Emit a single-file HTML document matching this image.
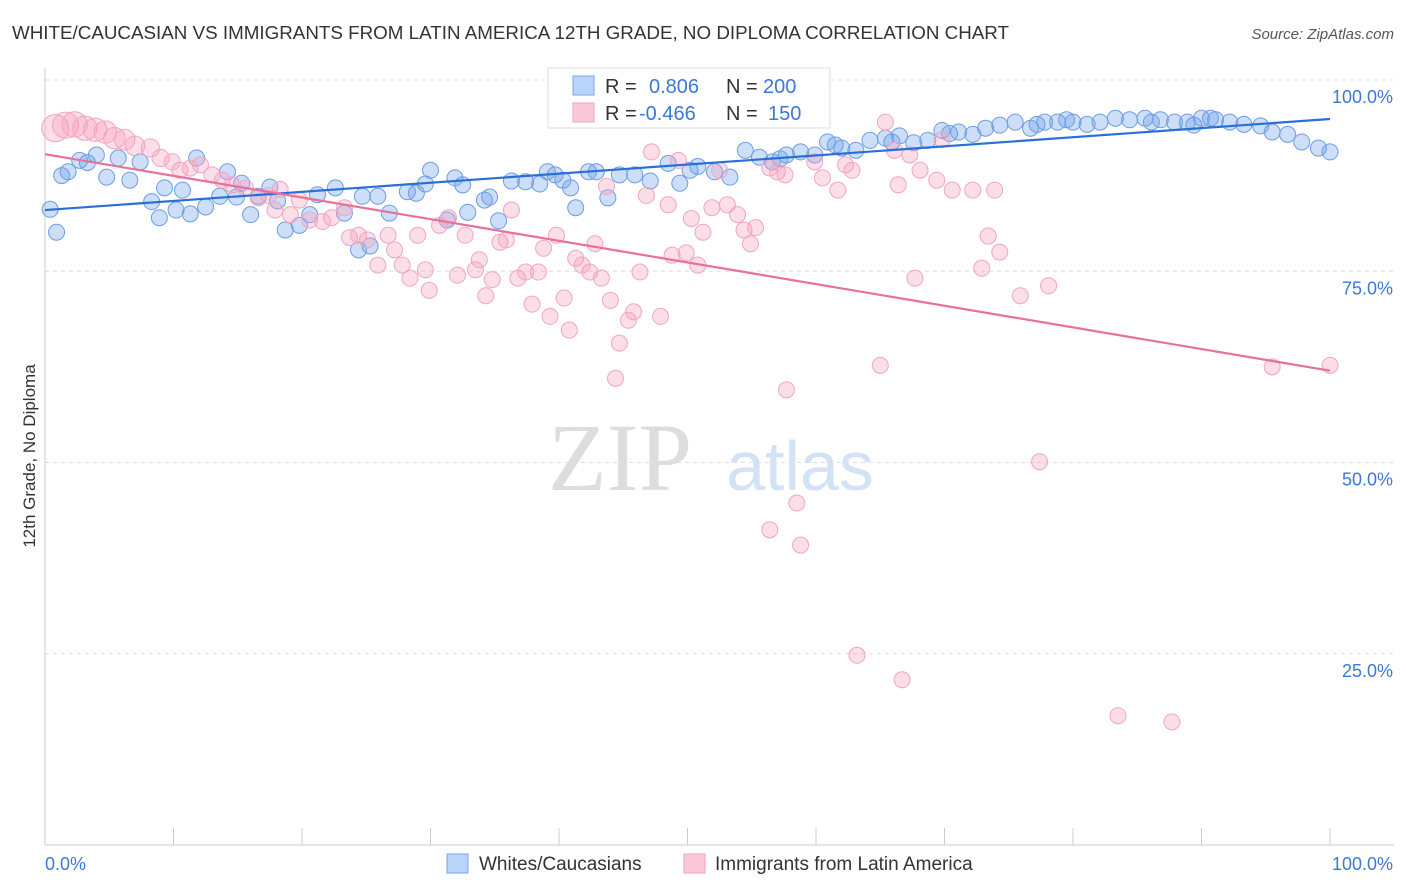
<!DOCTYPE html>
<html><head><meta charset="utf-8"><style>
body{margin:0;background:#fff;font-family:"Liberation Sans",sans-serif;}
#wrap{position:relative;width:1406px;height:892px;overflow:hidden;}
</style></head><body>
<div id="wrap">
<svg id="svg" width="1406" height="892" xmlns="http://www.w3.org/2000/svg" font-family="Liberation Sans, sans-serif">
<text x="12" y="39" font-size="18" fill="#333" textLength="997" lengthAdjust="spacingAndGlyphs">WHITE/CAUCASIAN VS IMMIGRANTS FROM LATIN AMERICA 12TH GRADE, NO DIPLOMA CORRELATION CHART</text>
<text x="1394" y="39" font-size="15" fill="#555" font-style="italic" text-anchor="end">Source: ZipAtlas.com</text>
<text x="620" y="490" font-size="96" fill="#ddd" font-family="Liberation Serif, serif" text-anchor="middle">ZIP</text>
<text x="800" y="490" font-size="70" fill="#d3e2f4" text-anchor="middle">atlas</text>
<g id="grid"></g>
<g id="pts"></g>
<g id="trend"></g>
<text transform="translate(35,456) rotate(-90)" font-size="17" fill="#333" text-anchor="middle">12th Grade, No Diploma</text>
<g>
<rect x="548" y="68" width="282" height="60" fill="#fff" stroke="#ddd"/>
<rect x="573" y="76" width="21" height="19" fill="#b8d4f8" stroke="#7aa6e4"/>
<rect x="573" y="103" width="21" height="19" fill="#fbc8d8" stroke="#f0a0bc"/>
<text x="605" y="93" font-size="20" fill="#333">R = </text><text x="649" y="93" font-size="20" fill="#3b78d8">0.806</text>
<text x="726" y="93" font-size="20" fill="#333">N = </text><text x="763" y="93" font-size="20" fill="#3b78d8">200</text>
<text x="605" y="120" font-size="20" fill="#333">R = </text><text x="639" y="120" font-size="20" fill="#3b78d8">-0.466</text>
<text x="726" y="120" font-size="20" fill="#333">N = </text><text x="768" y="120" font-size="20" fill="#3b78d8">150</text>
</g>
<g>
<rect x="447" y="854" width="21" height="19" fill="#b8d4f8" stroke="#7aa6e4"/>
<text x="479" y="870" font-size="19" fill="#333">Whites/Caucasians</text>
<rect x="684" y="854" width="21" height="19" fill="#fbc8d8" stroke="#f0a0bc"/>
<text x="715" y="870" font-size="19" fill="#333">Immigrants from Latin America</text>
</g>
</svg>
</div>
<script>
const xTicks=[0,10,20,30,40,50,60,70,80,90,100];
const yTicks=[25,50,75,100];
const yTickLabels=["25.0%","50.0%","75.0%","100.0%"];
const blueX=[0.4,0.9,1.3,1.8,2.7,4.0,4.8,5.7,6.6,8.3,8.9,9.3,10.7,11.3,11.8,12.5,13.6,14.2,15.3,16.0,16.6,17.5,18.1,18.7,19.8,21.2,22.6,23.3,24.4,24.7,25.9,26.8,28.2,29.6,30.0,31.3,31.9,32.9,34.2,35.3,36.3,37.4,38.5,39.1,40.3,41.3,42.3,43.8,44.7,45.9,47.1,48.5,49.4,50.8,52.1,53.3,54.5,55.6,56.6,57.7,58.8,59.9,60.9,62.0,63.1,64.2,65.4,66.5,67.6,68.7,69.8,71.1,72.2,73.2,74.3,75.5,76.7,77.8,78.8,80.0,81.1,82.1,83.3,84.4,85.6,86.8,87.9,88.9,90.0,91.1,92.2,93.3,94.6,95.5,96.7,97.8,99.1,100,89.4,90.7,86.1,79.5,77.2,70.4,65.9,61.5,57.2,50.2,42.9,40.9,39.7,34.6,32.5,28.9,25.3,20.6,14.9,10.2,7.4,3.3];
const blueY=[83.1,80.1,87.5,88.0,89.5,90.2,87.3,89.8,86.9,84.1,82.0,85.9,85.6,82.5,89.8,83.4,84.8,88.0,86.5,82.4,84.8,86.0,84.2,80.4,81.0,85.0,85.9,82.6,77.8,84.8,84.8,82.6,85.4,86.4,88.2,81.7,87.2,82.7,84.3,81.6,86.8,86.7,86.4,88.0,86.9,83.3,88.0,84.6,87.6,87.6,86.8,89.1,86.5,88.7,88.0,87.3,90.8,89.9,89.3,90.2,90.6,90.2,91.9,91.1,90.8,92.1,92.4,92.7,91.8,92.1,93.4,93.2,92.9,93.7,94.1,94.5,93.7,94.5,94.5,94.5,94.2,94.5,95.0,94.8,95.0,94.8,94.5,94.5,95.0,94.8,94.5,94.2,94.0,93.2,92.9,91.9,91.1,90.6,94.1,95.0,94.5,94.8,94.2,93.0,91.9,91.5,89.7,88.2,88.0,85.9,87.6,84.7,86.3,85.2,78.3,82.4,84.7,83.0,89.3,89.2];
const pinkX=[0.8,1.6,2.3,3.1,3.9,4.7,5.4,6.2,7.0,8.2,9.0,9.9,10.5,11.3,12.1,13.0,13.8,14.6,15.6,16.6,17.4,18.3,17.9,19.1,19.8,20.6,21.6,22.3,23.3,23.7,24.4,25.1,25.9,26.7,27.2,27.8,28.4,29.0,29.6,29.9,30.7,31.4,32.1,32.7,33.5,33.8,34.3,34.8,35.4,35.9,36.3,36.8,37.4,37.9,38.4,38.8,39.3,39.8,40.4,40.8,41.3,41.8,42.4,42.8,43.3,43.7,44.0,44.4,44.7,45.4,45.8,46.3,46.8,47.2,47.9,48.5,48.8,49.3,49.9,50.3,50.8,51.2,51.9,52.5,53.1,53.9,54.4,54.9,55.3,56.4,57.0,57.6,57.7,58.5,58.8,56.4,59.9,60.5,61.7,62.3,62.8,63.2,65.0,65.4,66.1,66.4,66.7,67.3,67.7,68.1,69.4,69.8,70.6,72.2,72.9,73.4,73.9,74.3,75.9,77.4,78.1,83.5,87.7,95.5,100];
const pinkY=[93.7,94.1,94.2,93.7,93.5,93.2,92.4,92.2,91.4,91.1,89.8,89.3,88.2,88.5,88.9,87.6,86.9,86.3,85.9,84.6,84.9,85.7,83.0,82.4,84.3,81.7,81.5,82.0,83.3,79.4,79.7,79.1,75.8,79.7,77.8,75.8,74.1,79.7,75.2,72.5,81.0,82.0,74.5,79.7,75.2,76.5,71.8,73.9,78.8,79.1,83.0,74.1,74.9,70.7,74.9,78.0,69.1,79.7,71.5,67.3,76.7,75.8,74.9,78.6,74.1,86.1,71.2,61.0,65.6,68.6,69.7,74.9,84.9,90.6,69.1,83.7,77.1,89.5,77.4,81.9,75.8,80.1,83.3,88.2,83.7,82.4,80.4,78.6,80.7,88.5,88.0,87.6,59.5,44.7,39.2,41.2,89.3,87.2,85.6,88.9,88.2,24.8,62.7,94.5,90.8,86.3,21.6,90.2,74.1,88.2,86.9,92.2,85.6,85.6,75.4,79.6,85.6,77.5,71.8,50.1,73.1,16.9,16.1,62.5,62.7];
const blueTrend=[83.0,94.9];
const pinkTrend=[90.3,62.0];
const NS="http://www.w3.org/2000/svg";
const X=v=>45+v*12.85, Y=v=>845-v*7.65;
function mk(t,a,p){const e=document.createElementNS(NS,t);for(const k in a)e.setAttribute(k,a[k]);p.appendChild(e);return e;}
const grid=document.getElementById('grid');
yTicks.forEach((t,i)=>{
 const l=mk('line',{x1:45,x2:1394,y1:Y(t),y2:Y(t),stroke:'#ddd','stroke-dasharray':'4,4'},grid);
 
 
 const tx=mk('text',{x:1393,y:Y(t)+23,'font-size':18,fill:'#3b78d8','text-anchor':'end'},grid);tx.textContent=yTickLabels[i];
 
 
});
mk('line',{x1:45,x2:45,y1:68,y2:845,stroke:'#ccc'},grid);
mk('line',{x1:45,x2:1394,y1:845,y2:845,stroke:'#ccc'},grid);
xTicks.forEach(t=>{const l=mk('line',{x1:X(t),x2:X(t),y1:828,y2:845,stroke:'#ccc'},grid);
 
 });
let a=mk('text',{x:45,y:870,'font-size':18,fill:'#3b78d8'},grid);a.textContent='0.0%';


a=mk('text',{x:1393,y:870,'font-size':18,fill:'#3b78d8','text-anchor':'end'},grid);a.textContent='100.0%';


const pts=document.getElementById('pts');
blueX.forEach((x,i)=>{const c=mk('circle',{cx:X(x),cy:Y(blueY[i]),r:8,fill:'rgba(110,160,235,0.35)',stroke:'#6d9de3','stroke-width':1},pts);
 
 });
pinkX.forEach((x,i)=>{const r=8+Math.max(0,10-x)*0.6;const c=mk('circle',{cx:X(x),cy:Y(pinkY[i]),r:r,fill:'rgba(245,160,190,0.35)',stroke:'#f2a5c0','stroke-width':1},pts);
 
 });
const tr=document.getElementById('trend');
let l=mk('line',{x1:X(0),x2:X(100),y1:Y(blueTrend[0]),y2:Y(blueTrend[1]),stroke:'#2a6fd6','stroke-width':2.2},tr);


l=mk('line',{x1:X(0),x2:X(100),y1:Y(pinkTrend[0]),y2:Y(pinkTrend[1]),stroke:'#e8709a','stroke-width':2.2},tr);


</script>
</body></html>
